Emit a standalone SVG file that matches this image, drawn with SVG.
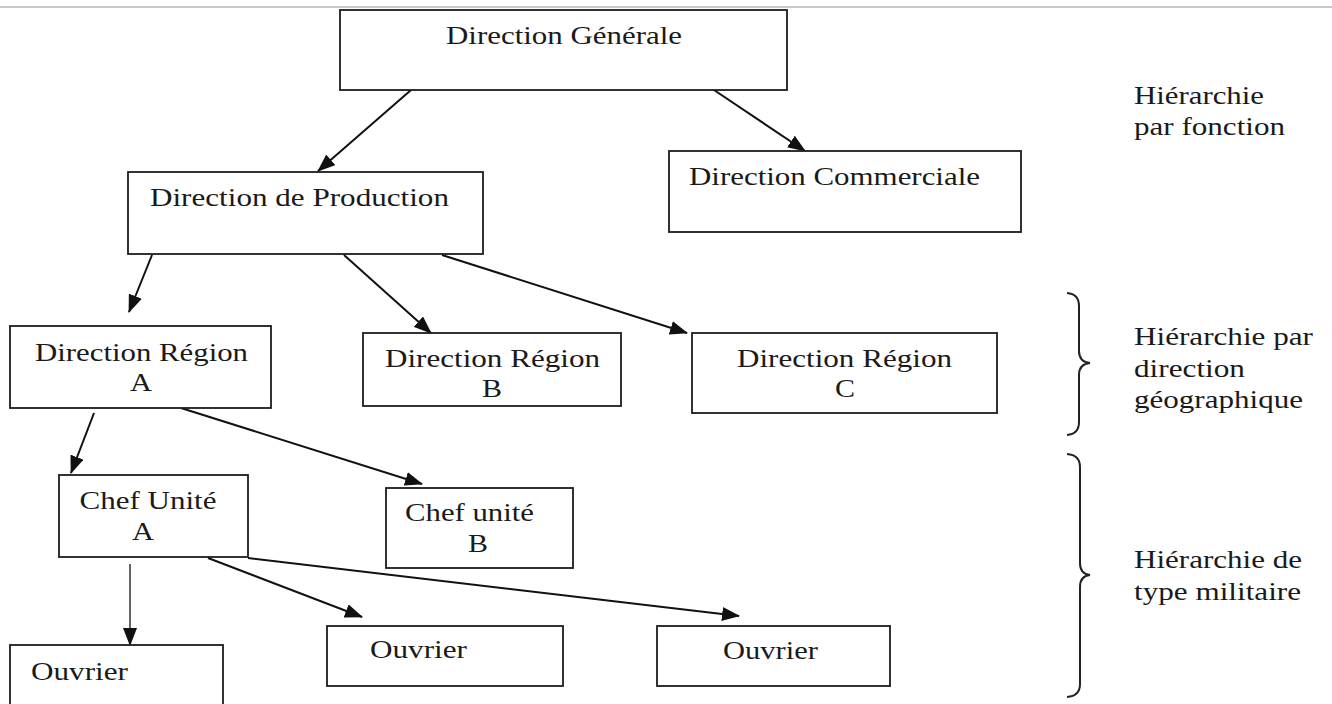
<svg xmlns="http://www.w3.org/2000/svg" width="1332" height="704" viewBox="0 0 1332 704">
  <style>
    .box { fill: #ffffff; stroke: #1c1c1c; stroke-width: 1.8; }
    .t { font-family: "Liberation Serif", "Times New Roman", serif; font-size: 26px; fill: #1a1a1a; }
    .m { text-anchor: middle; }
    .conn { stroke: #111111; stroke-width: 2; fill: none; marker-end: url(#arr); }
    .thin { stroke: #111111; stroke-width: 1.3; fill: none; marker-end: url(#arr); }
    .brace { stroke: #222222; stroke-width: 2; fill: none; }
  </style>
  <defs>
    <marker id="arr" markerUnits="userSpaceOnUse" markerWidth="18" markerHeight="14" refX="17" refY="7" orient="auto">
      <path d="M0,0 L18,7 L0,14 z" fill="#111111"/>
    </marker>
  </defs>
  <rect x="0" y="0" width="1332" height="704" fill="#ffffff"/>
  <line x1="0" y1="7" x2="1332" y2="7" stroke="#c8c8c8" stroke-width="2"/>

  <g id="connectors">
    <line class="conn" x1="411" y1="90" x2="318" y2="171"/>
    <line class="conn" x1="714" y1="90" x2="805" y2="151"/>
    <line class="conn" x1="152" y1="255" x2="129" y2="312"/>
    <line class="conn" x1="344" y1="255" x2="431" y2="333"/>
    <line class="conn" x1="442" y1="255" x2="687" y2="333"/>
    <line class="conn" x1="94" y1="413" x2="71" y2="473"/>
    <line class="conn" x1="181" y1="408" x2="422" y2="484"/>
    <line class="thin" x1="130" y1="564" x2="130" y2="645"/>
    <line class="conn" x1="208" y1="558" x2="362" y2="617"/>
    <line class="conn" x1="248" y1="558" x2="739" y2="616"/>
  </g>

  <g id="direction-generale">
    <rect class="box" x="340" y="10" width="447" height="80"/>
    <text class="t" x="446" y="44" textLength="236" lengthAdjust="spacingAndGlyphs">Direction Générale</text>
  </g>
  <g id="direction-commerciale">
    <rect class="box" x="669" y="151" width="352" height="81"/>
    <text class="t" x="689" y="185" textLength="291" lengthAdjust="spacingAndGlyphs">Direction Commerciale</text>
  </g>
  <g id="direction-production">
    <rect class="box" x="128" y="172" width="355" height="82"/>
    <text class="t" x="150" y="206" textLength="299" lengthAdjust="spacingAndGlyphs">Direction de Production</text>
  </g>
  <g id="direction-region-a">
    <rect class="box" x="10" y="326" width="261" height="82"/>
    <text class="t" x="35" y="361" textLength="213" lengthAdjust="spacingAndGlyphs">Direction Région</text>
    <text class="t m" x="141" y="391" textLength="22" lengthAdjust="spacingAndGlyphs">A</text>
  </g>
  <g id="direction-region-b">
    <rect class="box" x="363" y="333" width="258" height="73"/>
    <text class="t" x="385" y="367" textLength="215" lengthAdjust="spacingAndGlyphs">Direction Région</text>
    <text class="t m" x="492" y="397" textLength="20" lengthAdjust="spacingAndGlyphs">B</text>
  </g>
  <g id="direction-region-c">
    <rect class="box" x="692" y="333" width="305" height="80"/>
    <text class="t" x="737" y="367" textLength="215" lengthAdjust="spacingAndGlyphs">Direction Région</text>
    <text class="t m" x="845" y="397" textLength="20" lengthAdjust="spacingAndGlyphs">C</text>
  </g>
  <g id="chef-unite-a">
    <rect class="box" x="59" y="475" width="189" height="82"/>
    <text class="t" x="79.5" y="509" textLength="137" lengthAdjust="spacingAndGlyphs">Chef Unité</text>
    <text class="t m" x="143" y="540" textLength="22" lengthAdjust="spacingAndGlyphs">A</text>
  </g>
  <g id="chef-unite-b">
    <rect class="box" x="386" y="488" width="187" height="80"/>
    <text class="t" x="405" y="521" textLength="129" lengthAdjust="spacingAndGlyphs">Chef unité</text>
    <text class="t m" x="478" y="552" textLength="20" lengthAdjust="spacingAndGlyphs">B</text>
  </g>
  <g id="ouvrier-1">
    <rect class="box" x="10" y="645" width="213" height="70"/>
    <text class="t" x="31" y="680" textLength="97" lengthAdjust="spacingAndGlyphs">Ouvrier</text>
  </g>
  <g id="ouvrier-2">
    <rect class="box" x="327" y="626" width="236" height="60"/>
    <text class="t" x="370" y="658" textLength="97" lengthAdjust="spacingAndGlyphs">Ouvrier</text>
  </g>
  <g id="ouvrier-3">
    <rect class="box" x="657" y="626" width="233" height="60"/>
    <text class="t" x="723" y="659" textLength="95" lengthAdjust="spacingAndGlyphs">Ouvrier</text>
  </g>

  <g id="label-fonction">
    <text class="t" x="1134" y="104" textLength="130" lengthAdjust="spacingAndGlyphs">Hiérarchie</text>
    <text class="t" x="1134" y="135" textLength="151" lengthAdjust="spacingAndGlyphs">par fonction</text>
  </g>
  <g id="label-geographique">
    <path class="brace" d="M1067,293 Q1079,294 1079,306 L1079,351 Q1079,362 1090,363 Q1079,364 1079,375 L1079,422 Q1079,434 1067,435"/>
    <text class="t" x="1134" y="345" textLength="179" lengthAdjust="spacingAndGlyphs">Hiérarchie par</text>
    <text class="t" x="1134" y="377" textLength="111" lengthAdjust="spacingAndGlyphs">direction</text>
    <text class="t" x="1134" y="408" textLength="169" lengthAdjust="spacingAndGlyphs">géographique</text>
  </g>
  <g id="label-militaire">
    <path class="brace" d="M1067,454 Q1080,455 1080,467 L1080,563 Q1080,574 1090,575 Q1080,576 1080,587 L1080,684 Q1080,696 1067,697"/>
    <text class="t" x="1134" y="568" textLength="168" lengthAdjust="spacingAndGlyphs">Hiérarchie de</text>
    <text class="t" x="1134" y="600" textLength="167" lengthAdjust="spacingAndGlyphs">type militaire</text>
  </g>
</svg>
